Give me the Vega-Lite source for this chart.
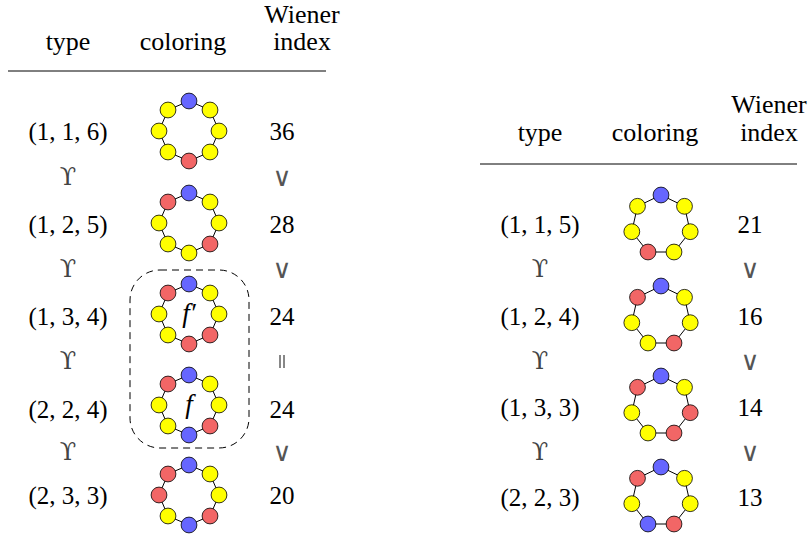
{
  "$schema": "https://vega.github.io/schema/vega-lite/v6.json",
  "width": 811,
  "height": 539,
  "autosize": {"type": "fit", "contains": "padding"},
  "padding": 0,
  "background": "white",
  "config": {"view": {"stroke": null}},
  "datasets": {
    "nodes": [
      {"g":"L1","k":0,"x":189,"y":101,"c":"b"},{"g":"L1","k":1,"x":210,"y":110,"c":"y"},{"g":"L1","k":2,"x":219,"y":131,"c":"y"},{"g":"L1","k":3,"x":210,"y":152,"c":"y"},{"g":"L1","k":4,"x":189,"y":161,"c":"r"},{"g":"L1","k":5,"x":168,"y":152,"c":"y"},{"g":"L1","k":6,"x":159,"y":131,"c":"y"},{"g":"L1","k":7,"x":168,"y":110,"c":"y"},
      {"g":"L2","k":0,"x":189,"y":193,"c":"b"},{"g":"L2","k":1,"x":210,"y":202,"c":"y"},{"g":"L2","k":2,"x":219,"y":223,"c":"y"},{"g":"L2","k":3,"x":210,"y":244,"c":"r"},{"g":"L2","k":4,"x":189,"y":253,"c":"y"},{"g":"L2","k":5,"x":168,"y":244,"c":"y"},{"g":"L2","k":6,"x":159,"y":223,"c":"y"},{"g":"L2","k":7,"x":168,"y":202,"c":"r"},
      {"g":"L3","k":0,"x":189,"y":284,"c":"b"},{"g":"L3","k":1,"x":210,"y":293,"c":"y"},{"g":"L3","k":2,"x":219,"y":314,"c":"y"},{"g":"L3","k":3,"x":210,"y":335,"c":"r"},{"g":"L3","k":4,"x":189,"y":344,"c":"r"},{"g":"L3","k":5,"x":168,"y":335,"c":"y"},{"g":"L3","k":6,"x":159,"y":314,"c":"y"},{"g":"L3","k":7,"x":168,"y":293,"c":"r"},
      {"g":"L4","k":0,"x":189,"y":375,"c":"b"},{"g":"L4","k":1,"x":210,"y":384,"c":"y"},{"g":"L4","k":2,"x":219,"y":405,"c":"y"},{"g":"L4","k":3,"x":210,"y":426,"c":"r"},{"g":"L4","k":4,"x":189,"y":435,"c":"b"},{"g":"L4","k":5,"x":168,"y":426,"c":"y"},{"g":"L4","k":6,"x":159,"y":405,"c":"y"},{"g":"L4","k":7,"x":168,"y":384,"c":"r"},
      {"g":"L5","k":0,"x":189,"y":465,"c":"b"},{"g":"L5","k":1,"x":210,"y":474,"c":"y"},{"g":"L5","k":2,"x":219,"y":495,"c":"y"},{"g":"L5","k":3,"x":210,"y":516,"c":"r"},{"g":"L5","k":4,"x":189,"y":525,"c":"b"},{"g":"L5","k":5,"x":168,"y":516,"c":"y"},{"g":"L5","k":6,"x":159,"y":495,"c":"r"},{"g":"L5","k":7,"x":168,"y":474,"c":"r"},
      {"g":"R1","k":0,"x":661,"y":195,"c":"b"},{"g":"R1","k":1,"x":684.5,"y":206.3,"c":"y"},{"g":"R1","k":2,"x":690.2,"y":231.7,"c":"y"},{"g":"R1","k":3,"x":674,"y":252,"c":"y"},{"g":"R1","k":4,"x":648,"y":252,"c":"r"},{"g":"R1","k":5,"x":631.8,"y":231.7,"c":"y"},{"g":"R1","k":6,"x":637.5,"y":206.3,"c":"y"},
      {"g":"R2","k":0,"x":661,"y":286,"c":"b"},{"g":"R2","k":1,"x":684.5,"y":297.3,"c":"y"},{"g":"R2","k":2,"x":690.2,"y":322.7,"c":"y"},{"g":"R2","k":3,"x":674,"y":343,"c":"r"},{"g":"R2","k":4,"x":648,"y":343,"c":"y"},{"g":"R2","k":5,"x":631.8,"y":322.7,"c":"y"},{"g":"R2","k":6,"x":637.5,"y":297.3,"c":"r"},
      {"g":"R3","k":0,"x":661,"y":376,"c":"b"},{"g":"R3","k":1,"x":684.5,"y":387.3,"c":"y"},{"g":"R3","k":2,"x":690.2,"y":412.7,"c":"r"},{"g":"R3","k":3,"x":674,"y":433,"c":"r"},{"g":"R3","k":4,"x":648,"y":433,"c":"y"},{"g":"R3","k":5,"x":631.8,"y":412.7,"c":"y"},{"g":"R3","k":6,"x":637.5,"y":387.3,"c":"r"},
      {"g":"R4","k":0,"x":661,"y":467,"c":"b"},{"g":"R4","k":1,"x":684.5,"y":478.3,"c":"y"},{"g":"R4","k":2,"x":690.2,"y":503.7,"c":"y"},{"g":"R4","k":3,"x":674,"y":524,"c":"r"},{"g":"R4","k":4,"x":648,"y":524,"c":"b"},{"g":"R4","k":5,"x":631.8,"y":503.7,"c":"y"},{"g":"R4","k":6,"x":637.5,"y":478.3,"c":"r"}
    ],
    "headers": [
      {"t":"type","x":68,"y":50},{"t":"coloring","x":183,"y":50},{"t":"Wiener","x":302,"y":23},{"t":"index","x":302,"y":50},
      {"t":"type","x":540,"y":141},{"t":"coloring","x":655,"y":141},{"t":"Wiener","x":769,"y":113},{"t":"index","x":769,"y":141}
    ],
    "rules": [
      {"x":8,"x2":326,"y":71},{"x":480,"x2":797,"y":164}
    ],
    "bars": [
      {"x":280,"y":355,"y2":368},{"x":284,"y":355,"y2":368}
    ],
    "labels": [
      {"t":"(1, 1, 6)","x":68,"y":132},{"t":"(1, 2, 5)","x":68,"y":225},
      {"t":"(1, 3, 4)","x":68,"y":317},{"t":"(2, 2, 4)","x":68,"y":410},{"t":"(2, 3, 3)","x":68,"y":496},
      {"t":"36","x":282,"y":132},{"t":"28","x":282,"y":225},
      {"t":"24","x":282,"y":317},{"t":"24","x":282,"y":410},{"t":"20","x":282,"y":496},
      {"t":"(1, 1, 5)","x":540,"y":225},{"t":"(1, 2, 4)","x":540,"y":317},
      {"t":"(1, 3, 3)","x":540,"y":408},{"t":"(2, 2, 3)","x":540,"y":498},
      {"t":"21","x":750,"y":225},{"t":"16","x":750,"y":317},
      {"t":"14","x":750,"y":408},{"t":"13","x":750,"y":498}
    ],
    "ups": [
      {"t":"ϒ","x":68,"y":178},{"t":"ϒ","x":68,"y":270},{"t":"ϒ","x":68,"y":362},{"t":"ϒ","x":68,"y":453},
      {"t":"ϒ","x":540,"y":270},{"t":"ϒ","x":540,"y":362},{"t":"ϒ","x":540,"y":453}
    ],
    "vees": [
      {"t":"∨","x":282,"y":178},{"t":"∨","x":282,"y":270},{"t":"∨","x":282,"y":453},
      {"t":"∨","x":750,"y":270},{"t":"∨","x":750,"y":362},{"t":"∨","x":750,"y":453}
    ],
    "fn": [{"t":"f′","x":189,"y":314},{"t":"f","x":189,"y":405}],
    "box": [{"x":130,"x2":249,"y":270,"y2":448}]
  },
  "layer": [
    {
      "data": {"name": "rules"},
      "mark": {"type": "rule", "color": "black", "strokeWidth": 1},
      "encoding": {
        "x": {"field": "x", "type": "quantitative", "scale": {"domain": [0, 811], "nice": false, "zero": false}, "axis": null},
        "x2": {"field": "x2"},
        "y": {"field": "y", "type": "quantitative", "scale": {"domain": [0, 539], "reverse": true, "nice": false, "zero": false}, "axis": null}
      }
    },
    {
      "data": {"name": "bars"},
      "mark": {"type": "rule", "color": "#111111", "strokeWidth": 1},
      "encoding": {
        "x": {"field": "x", "type": "quantitative"},
        "y": {"field": "y", "type": "quantitative"},
        "y2": {"field": "y2"}
      }
    },
    {
      "data": {"name": "box"},
      "mark": {"type": "rect", "fill": null, "stroke": "black", "strokeWidth": 1, "strokeDash": [7, 5], "cornerRadius": 30},
      "encoding": {
        "x": {"field": "x", "type": "quantitative"},
        "x2": {"field": "x2"},
        "y": {"field": "y", "type": "quantitative"},
        "y2": {"field": "y2"}
      }
    },
    {
      "data": {"name": "nodes"},
      "mark": {"type": "line", "color": "black", "strokeWidth": 1, "interpolate": "linear-closed"},
      "encoding": {
        "x": {"field": "x", "type": "quantitative"},
        "y": {"field": "y", "type": "quantitative"},
        "detail": {"field": "g"},
        "order": {"field": "k", "type": "quantitative"}
      }
    },
    {
      "data": {"name": "nodes"},
      "mark": {"type": "point", "shape": "circle", "filled": true, "size": 250, "stroke": "black", "strokeWidth": 0.8, "opacity": 1},
      "encoding": {
        "x": {"field": "x", "type": "quantitative"},
        "y": {"field": "y", "type": "quantitative"},
        "color": {"field": "c", "type": "nominal", "scale": {"domain": ["b", "r", "y"], "range": ["#6666ff", "#f26666", "#ffff00"]}, "legend": null}
      }
    },
    {
      "data": {"name": "headers"},
      "mark": {"type": "text", "font": "Liberation Serif", "fontSize": 26, "baseline": "alphabetic", "align": "center", "color": "black"},
      "encoding": {
        "x": {"field": "x", "type": "quantitative"},
        "y": {"field": "y", "type": "quantitative"},
        "text": {"field": "t"}
      }
    },
    {
      "data": {"name": "labels"},
      "mark": {"type": "text", "font": "Liberation Serif", "fontSize": 25, "baseline": "middle", "align": "center", "color": "black"},
      "encoding": {
        "x": {"field": "x", "type": "quantitative"},
        "y": {"field": "y", "type": "quantitative"},
        "text": {"field": "t"}
      }
    },
    {
      "data": {"name": "ups"},
      "mark": {"type": "text", "font": "DejaVu Serif", "fontSize": 24, "baseline": "middle", "align": "center", "color": "#444444"},
      "encoding": {
        "x": {"field": "x", "type": "quantitative"},
        "y": {"field": "y", "type": "quantitative"},
        "text": {"field": "t"}
      }
    },
    {
      "data": {"name": "vees"},
      "mark": {"type": "text", "font": "DejaVu Serif", "fontSize": 26, "baseline": "middle", "align": "center", "color": "#555555"},
      "encoding": {
        "x": {"field": "x", "type": "quantitative"},
        "y": {"field": "y", "type": "quantitative"},
        "text": {"field": "t"}
      }
    },
    {
      "data": {"name": "fn"},
      "mark": {"type": "text", "font": "Liberation Serif", "fontSize": 27, "fontStyle": "italic", "baseline": "middle", "align": "center", "color": "black"},
      "encoding": {
        "x": {"field": "x", "type": "quantitative"},
        "y": {"field": "y", "type": "quantitative"},
        "text": {"field": "t"}
      }
    }
  ]
}
